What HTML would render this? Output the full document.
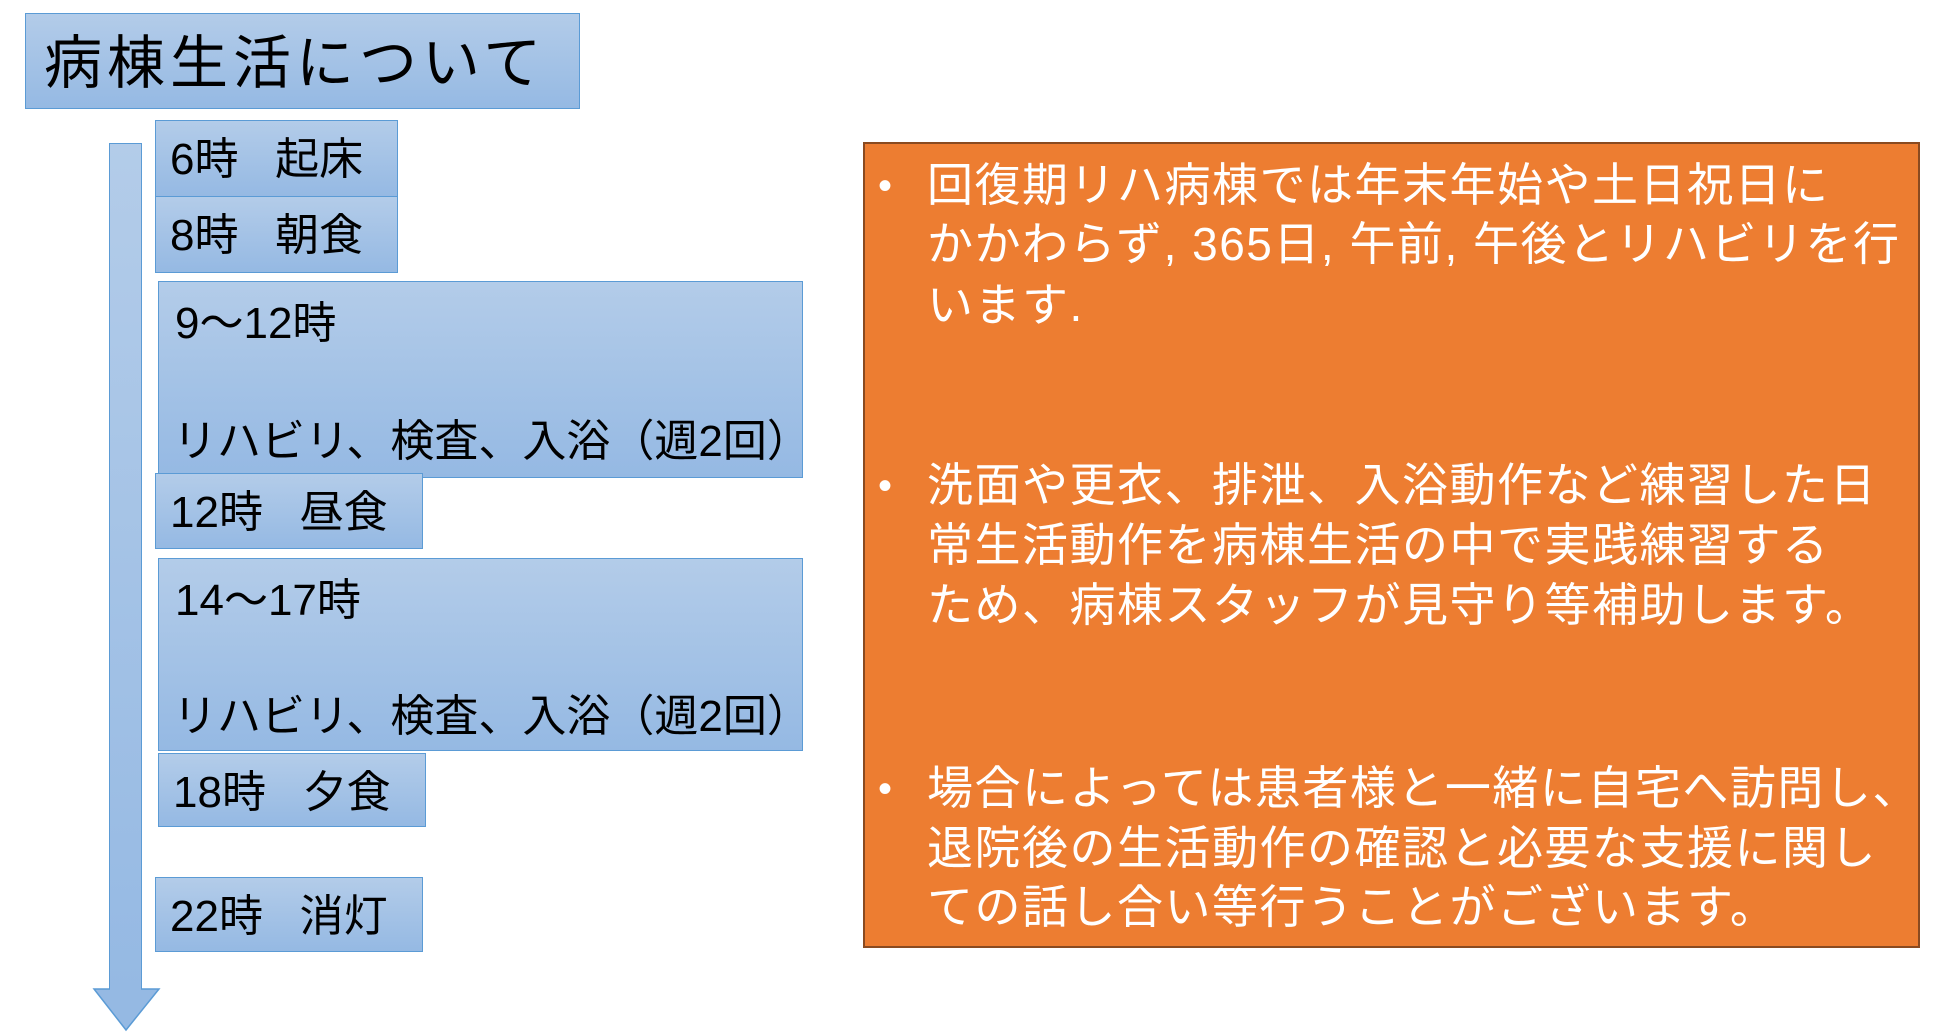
<!DOCTYPE html>
<html><head><meta charset="utf-8"><style>
body{margin:0;width:1937px;height:1032px;background:#fff;position:relative;overflow:hidden;font-family:"Liberation Sans","Noto Sans CJK JP",sans-serif;}
.b{position:absolute;box-sizing:border-box;border:1.5px solid #5b9bd5;background:linear-gradient(#b3cce9,#95b9e3);color:#000;}
.t{position:absolute;white-space:nowrap;line-height:1;}
.o{position:absolute;left:863px;top:142px;width:1057px;height:806px;box-sizing:border-box;background:#ed7d31;border:2px solid #8a4a20;}
.w{position:absolute;color:#fff;font-size:46px;letter-spacing:1.5px;white-space:nowrap;line-height:1;}
.d{position:absolute;color:#fff;font-size:40px;line-height:1;}
</style></head><body>
<div class="b" style="left:25px;top:13px;width:555px;height:96px;"><div class="t" style="left:18px;top:21px;font-size:58px;letter-spacing:5px;">病棟生活について</div></div>
<div style="position:absolute;left:109px;top:143px;width:33px;height:847px;box-sizing:border-box;border:1.5px solid #5b9bd5;border-bottom:none;background:linear-gradient(#b3cce9,#95b9e3);"></div>
<svg style="position:absolute;left:0;top:0" width="1937" height="1032"><polygon points="94,989 159,989 126,1030" fill="#95b9e3" stroke="#5b9bd5" stroke-width="1.5"/><rect x="110" y="985" width="31" height="6" fill="#95b9e3"/></svg>
<div class="b" style="left:155px;top:120px;width:243px;height:77px;"><div class="t" style="left:14px;top:17px;font-size:44px;">6時&nbsp;&nbsp;&nbsp;起床</div></div>
<div class="b" style="left:155px;top:196px;width:243px;height:77px;"><div class="t" style="left:14px;top:17px;font-size:44px;">8時&nbsp;&nbsp;&nbsp;朝食</div></div>
<div class="b" style="left:158px;top:281px;width:645px;height:197px;"><div class="t" style="left:16px;top:20px;font-size:44px;">9～12時</div><div class="t" style="left:14px;top:138px;font-size:44px;">リハビリ、検査、入浴（週2回）</div></div>
<div class="b" style="left:155px;top:473px;width:268px;height:76px;"><div class="t" style="left:14px;top:17px;font-size:44px;">12時&nbsp;&nbsp;&nbsp;昼食</div></div>
<div class="b" style="left:158px;top:558px;width:645px;height:193px;"><div class="t" style="left:16px;top:20px;font-size:44px;">14～17時</div><div class="t" style="left:14px;top:136px;font-size:44px;">リハビリ、検査、入浴（週2回）</div></div>
<div class="b" style="left:158px;top:753px;width:268px;height:74px;"><div class="t" style="left:14px;top:17px;font-size:44px;">18時&nbsp;&nbsp;&nbsp;夕食</div></div>
<div class="b" style="left:155px;top:877px;width:268px;height:75px;"><div class="t" style="left:14px;top:17px;font-size:44px;">22時&nbsp;&nbsp;&nbsp;消灯</div></div>
<div class="o"></div>
<div class="d" style="left:878px;top:166px;">•</div>
<div class="w" style="left:927px;top:162px;">回復期リハ病棟では年末年始や土日祝日に</div>
<div class="w" style="left:927px;top:221px;">かかわらず, 365日, 午前, 午後とリハビリを行</div>
<div class="w" style="left:927px;top:282px;">います.</div>
<div class="d" style="left:878px;top:466px;">•</div>
<div class="w" style="left:927px;top:462px;">洗面や更衣、排泄、入浴動作など練習した日</div>
<div class="w" style="left:927px;top:522px;">常生活動作を病棟生活の中で実践練習する</div>
<div class="w" style="left:927px;top:582px;">ため、病棟スタッフが見守り等補助します。</div>
<div class="d" style="left:878px;top:769px;">•</div>
<div class="w" style="left:927px;top:765px;">場合によっては患者様と一緒に自宅へ訪問し、</div>
<div class="w" style="left:927px;top:825px;">退院後の生活動作の確認と必要な支援に関し</div>
<div class="w" style="left:927px;top:884px;">ての話し合い等行うことがございます。</div>
</body></html>
